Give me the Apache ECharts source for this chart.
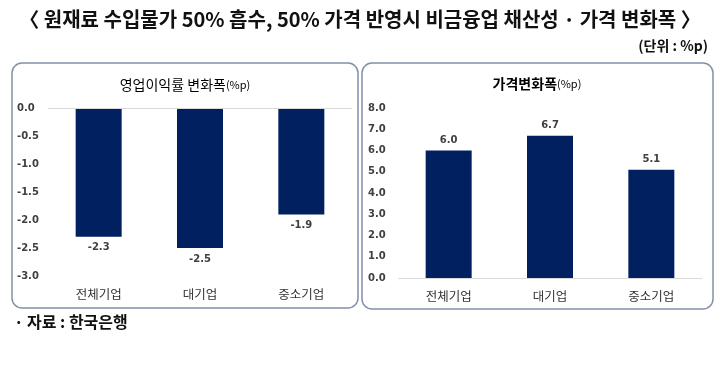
<!DOCTYPE html>
<html><head><meta charset="utf-8">
<script src="https://cdn.jsdelivr.net/npm/echarts@6/dist/echarts.min.js"></script>
<style>html,body{margin:0;padding:0;background:#fff}#c{width:720px;height:367px}</style>
</head><body><div id="c"></div>
<script>
const categories = ['전체기업', '대기업', '중소기업'];
const profitChange = [-2.3, -2.5, -1.9];
const priceChange = [6.0, 6.7, 5.1];
const mainTitle = '〈 원재료 수입물가 50% 흡수, 50% 가격 반영시 비금융업 채산성 · 가격 변화폭 〉';
const unitText = '(단위 : %p)';
const sourceText = '자료 : 한국은행';
const leftTitle = '영업이익률 변화폭';
const rightTitle = '가격변화폭';

const KR = '"Noto Sans CJK KR", "Noto Sans", sans-serif';
const NUM = '"DejaVu Sans", sans-serif';
const navy = '#002060';

const chart = echarts.init(document.getElementById('c'), null, {renderer: 'canvas'});
function yAx(gi, min, max, interval) {
  return {
    type: 'value', gridIndex: gi, min: min, max: max, interval: interval,
    axisLine: {show: false}, axisTick: {show: false}, splitLine: {show: false},
    axisLabel: {formatter: v => v.toFixed(1), color: '#404040', fontSize: 10, fontFamily: NUM, fontWeight: 'bold', align: 'left', margin: gi === 0 ? 31 : 30}
  };
}
function xAx(gi) {
  return {
    type: 'category', gridIndex: gi, data: categories, position: 'bottom',
    axisLine: {show: false, onZero: false}, axisTick: {show: false},
    axisLabel: {color: '#333', fontSize: 12.5, fontFamily: KR, margin: 12}
  };
}
const zeroLine = {silent: true, symbol: 'none', label: {show: false}, lineStyle: {color: '#d9d9d9', type: 'solid', width: 1}, data: [{yAxis: 0}]};
chart.setOption({
  animation: false,
  grid: [
    {left: 48, right: 368, top: 108, bottom: 91},
    {left: 398, right: 18, top: 108, bottom: 89}
  ],
  xAxis: [xAx(0), xAx(1)],
  yAxis: [yAx(0, -3, 0, 0.5), yAx(1, 0, 8, 1)],
  series: [
    {type: 'bar', xAxisIndex: 0, yAxisIndex: 0, data: profitChange, barWidth: 46, itemStyle: {color: navy},
     label: {show: true, position: 'bottom', distance: 6, formatter: p => p.value.toFixed(1), color: '#404040', fontSize: 10, fontWeight: 'bold', fontFamily: NUM},
     markLine: zeroLine},
    {type: 'bar', xAxisIndex: 1, yAxisIndex: 1, data: priceChange, barWidth: 46, itemStyle: {color: navy},
     label: {show: true, position: 'top', distance: 5, formatter: p => p.value.toFixed(1), color: '#404040', fontSize: 10, fontWeight: 'bold', fontFamily: NUM},
     markLine: zeroLine}
  ],
  graphic: [
    {type: 'rect', shape: {x: 12, y: 63, width: 346, height: 245, r: 10}, style: {fill: 'none', stroke: '#8490a8', lineWidth: 1.5}, z: -1},
    {type: 'rect', shape: {x: 362, y: 63, width: 351, height: 246, r: 10}, style: {fill: 'none', stroke: '#8490a8', lineWidth: 1.5}, z: -1},
    {type: 'text', left: 'center', top: 9, style: {text: mainTitle, font: 'bold 20px ' + KR, fill: '#111'}},
    {type: 'text', right: 12, top: 39, style: {text: unitText, font: 'bold 14px ' + KR, fill: '#111'}},
    {type: 'text', left: 14, top: 314, style: {text: '·', font: 'bold 16px ' + KR, fill: '#111'}},
    {type: 'text', left: 27, top: 314, style: {text: sourceText, font: 'bold 16px ' + KR, fill: '#111'}},
    {type: 'text', x: 185, y: 85, style: {text: '{a|' + leftTitle + '}{b|(%p)}', align: 'center', verticalAlign: 'middle',
      rich: {a: {fontSize: 14, fontFamily: KR, color: '#333'}, b: {fontSize: 11, fontFamily: KR, color: '#333'}}}},
    {type: 'text', x: 537, y: 84, style: {text: '{a|' + rightTitle + '}{b|(%p)}', align: 'center', verticalAlign: 'middle',
      rich: {a: {fontSize: 14, fontWeight: 'bold', fontFamily: KR, color: '#404040'}, b: {fontSize: 11, fontFamily: KR, color: '#404040'}}}}
  ]
});
</script></body></html>
